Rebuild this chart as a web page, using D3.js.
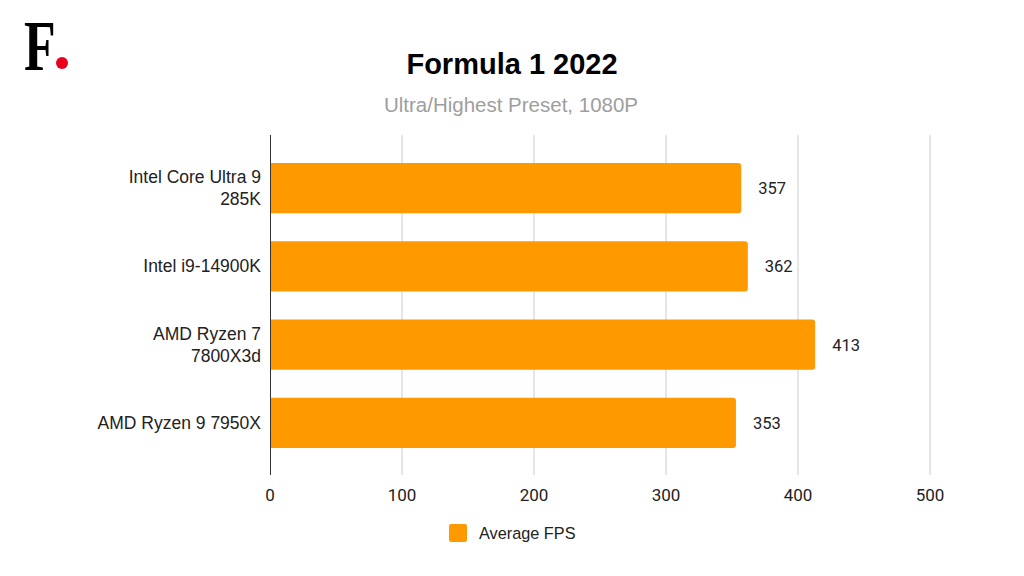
<!DOCTYPE html>
<html><head><meta charset="utf-8">
<script src="https://cdn.jsdelivr.net/npm/d3@7"></script>
<style>body{margin:0;background:#fff;}svg{display:block;font-family:Arimo,"Liberation Sans",Arial,sans-serif;}</style>
</head><body>
<svg id="c" width="1024" height="576"></svg>
<script>
const categories = ["Intel Core Ultra 9|285K", "Intel i9-14900K", "AMD Ryzen 7|7800X3d", "AMD Ryzen 9 7950X"];
const values = [357, 362, 413, 353];
const xTicks = [0, 100, 200, 300, 400, 500];
const seriesName = "Average FPS";
const title = "Formula 1 2022";
const subtitle = "Ultra/Highest Preset, 1080P";

const svg = d3.select("#c");
const color = "#ff9900";
const x = d3.scaleLinear().domain([0, 500]).range([270, 930]);
const y = d3.scaleBand().domain(categories).range([149, 462]).paddingInner(0.36).paddingOuter(0.18);

// logo
svg.append("text").attr("transform", "translate(24,70) scale(0.72,1)")
  .attr("font-family", "'Liberation Serif','DejaVu Serif',serif").attr("font-weight", "bold")
  .attr("font-size", 72).attr("fill", "#000").text("F");
svg.append("circle").attr("cx", 62).attr("cy", 63).attr("r", 6).attr("fill", "#e8001c");

svg.append("text").attr("x", 512).attr("y", 74).attr("text-anchor", "middle")
  .attr("font-size", 29).attr("font-weight", "bold").attr("fill", "#000").text(title);
svg.append("text").attr("x", 511).attr("y", 112).attr("text-anchor", "middle")
  .attr("font-size", 20.5).attr("fill", "#9e9e9e").text(subtitle);

// grid
svg.append("g").selectAll("line").data(xTicks.slice(1)).join("line")
  .attr("x1", d => x(d)).attr("x2", d => x(d)).attr("y1", 135).attr("y2", 475)
  .attr("stroke", "#cccccc").attr("stroke-width", 1);

// bars
svg.append("g").selectAll("path").data(values).join("path")
  .attr("d", (d, i) => {
    const x0 = x(0), x1 = x(d), y0 = y(categories[i]), h = y.bandwidth(), r = 3;
    return `M${x0},${y0}H${x1 - r}Q${x1},${y0} ${x1},${y0 + r}V${y0 + h - r}Q${x1},${y0 + h} ${x1 - r},${y0 + h}H${x0}Z`;
  }).attr("fill", color);

// value labels
svg.append("g").selectAll("text").data(values).join("text")
  .attr("x", d => x(d) + 17).attr("y", (d, i) => y(categories[i]) + y.bandwidth() / 2 + 6)
  .attr("font-family", "Roboto,sans-serif").attr("font-size", 16.5).attr("fill", "#222").text(d => d);

// axis line
svg.append("line").attr("x1", x(0) + 0.5).attr("x2", x(0) + 0.5).attr("y1", 135).attr("y2", 475)
  .attr("stroke", "#333").attr("stroke-width", 1);

// category labels
const lab = svg.append("g").selectAll("text").data(categories).join("text")
  .attr("text-anchor", "end").attr("font-size", 17.5).attr("fill", "#222");
lab.each(function (c) {
  const lines = c.split("|");
  const cy = y(c) + y.bandwidth() / 2;
  const t = d3.select(this);
  lines.forEach((l, j) => {
    t.append("tspan").attr("x", 261).attr("y", cy + 6 + (j - (lines.length - 1) / 2) * 22).text(l);
  });
});

// x tick labels
svg.append("g").selectAll("text").data(xTicks).join("text")
  .attr("x", d => x(d)).attr("y", 501).attr("text-anchor", "middle")
  .attr("font-family", "Roboto,sans-serif").attr("font-size", 17).attr("fill", "#222").text(d => d);

// legend
svg.append("rect").attr("x", 449).attr("y", 524).attr("width", 18).attr("height", 18).attr("rx", 2).attr("fill", color);
svg.append("text").attr("x", 479).attr("y", 539).attr("font-size", 16.3).attr("fill", "#222").text(seriesName);
</script>
</body></html>
